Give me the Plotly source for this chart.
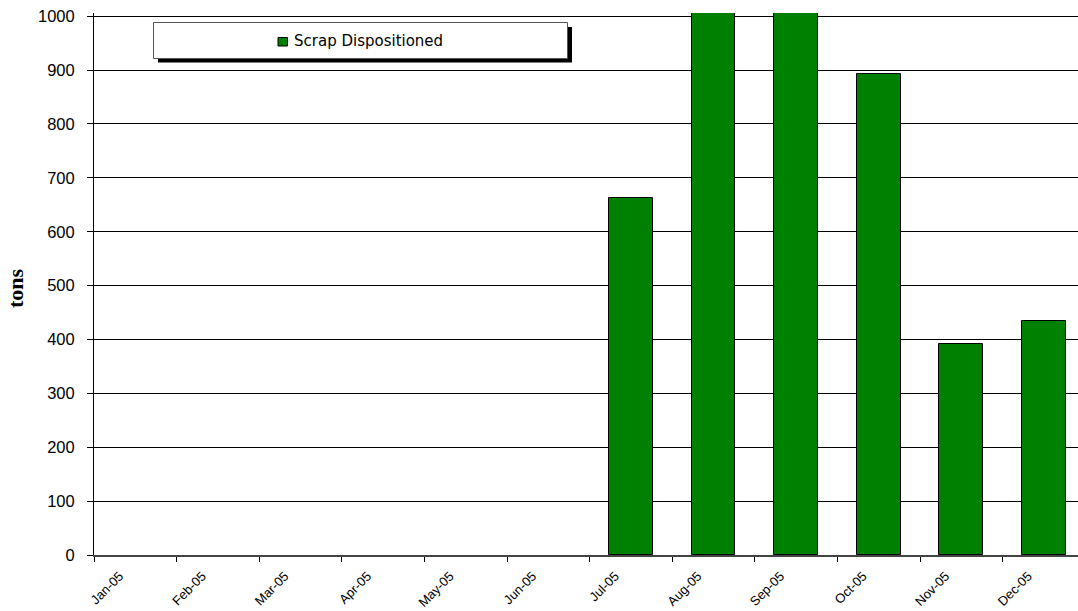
import plotly.graph_objects as go

# Monthly scrap dispositioned, 2005 (tons)
months = ["Jan-05", "Feb-05", "Mar-05", "Apr-05", "May-05", "Jun-05",
          "Jul-05", "Aug-05", "Sep-05", "Oct-05", "Nov-05", "Dec-05"]
scrap_tons = [0, 0, 0, 0, 0, 0, 662, 1075, 1060, 892, 391, 435]
y_ticks = [0, 100, 200, 300, 400, 500, 600, 700, 800, 900, 1000]

series_name = "Scrap Dispositioned"
GREEN = "#008000"

W, H = 1078, 611
ML, MR, MT, MB = 94, 0, 13, 56
plot_w = W - ML - MR
cat_px = 82.6                      # width of one month slot in pixels
x_max = plot_w / cat_px

idx = list(range(len(months)))
bar_x = [i + 0.5 for i in idx]     # bars sit in the middle of each month slot
label_x = [i + 0.31 for i in idx]
# empty months get no outline so nothing is drawn for them
outline_w = [1 if v > 0 else 0 for v in scrap_tons]

fig = go.Figure()
fig.add_trace(go.Bar(
    x=bar_x, y=scrap_tons, name=series_name,
    width=0.53,
    marker=dict(color=GREEN, line=dict(color="black", width=outline_w)),
    showlegend=False,
))
# invisible helper so the label axis is rendered
fig.add_trace(go.Scatter(x=[0], y=[0], xaxis="x2", mode="markers",
                         marker=dict(opacity=0), showlegend=False,
                         hoverinfo="skip"))

fig.update_layout(
    width=W, height=H,
    margin=dict(l=ML, r=MR, t=MT, b=MB),
    paper_bgcolor="white", plot_bgcolor="white",
    font=dict(family="Liberation Sans, Arial, sans-serif", color="black"),
    xaxis=dict(
        range=[0, x_max], tickvals=idx, ticktext=[""] * len(idx),
        ticks="outside", ticklen=5, tickcolor="black", tickwidth=1,
        showgrid=False, zeroline=False, automargin=False,
        showline=True, linecolor="#444444", linewidth=1.5,
    ),
    xaxis2=dict(
        overlaying="x", matches="x", anchor="y", side="bottom",
        tickvals=label_x, ticktext=months, tickangle=-45,
        ticks="", showgrid=False, zeroline=False, showline=False,
        automargin=False,
        tickfont=dict(size=13), ticklabelstandoff=10,
    ),
    yaxis=dict(
        range=[0, 1006], tickvals=y_ticks,
        ticks="outside", ticklen=6, tickcolor="black", tickwidth=1,
        showgrid=True, gridcolor="black", gridwidth=1,
        zeroline=False, showline=True, linecolor="black", linewidth=1,
        automargin=False,
        tickfont=dict(size=16.5), ticklabelstandoff=9,
    ),
    bargap=0,
)

# y-axis title
fig.add_annotation(
    text="<b>tons</b>", textangle=-90, showarrow=False,
    xref="paper", yref="paper",
    x=(15 - ML) / plot_w, y=1 - (288 - MT) / (H - MT - MB),
    xanchor="center", yanchor="middle",
    font=dict(family="Liberation Serif, Times New Roman, serif", size=22),
)

# legend box with drop shadow
def px_x(p):
    return (p - ML) / plot_w

def px_y(p):
    return 1 - (p - MT) / (H - MT - MB)

fig.add_shape(type="rect", xref="paper", yref="paper",
              x0=px_x(158), x1=px_x(572), y0=px_y(27), y1=px_y(62.5),
              fillcolor="black", line=dict(width=0), layer="above")
fig.add_shape(type="rect", xref="paper", yref="paper",
              x0=px_x(153.5), x1=px_x(567.5), y0=px_y(22.5), y1=px_y(58.5),
              fillcolor="white", line=dict(color="#555555", width=1),
              layer="above")
fig.add_shape(type="rect", xref="paper", yref="paper",
              x0=px_x(278), x1=px_x(287.5), y0=px_y(37.5), y1=px_y(46),
              fillcolor=GREEN, line=dict(color="black", width=1),
              layer="above")
fig.add_annotation(
    text=series_name, showarrow=False, xref="paper", yref="paper",
    x=px_x(292), y=px_y(41), xanchor="left", yanchor="middle",
    font=dict(family="DejaVu Sans, sans-serif", size=15),
)

fig.write_html("out.html")
